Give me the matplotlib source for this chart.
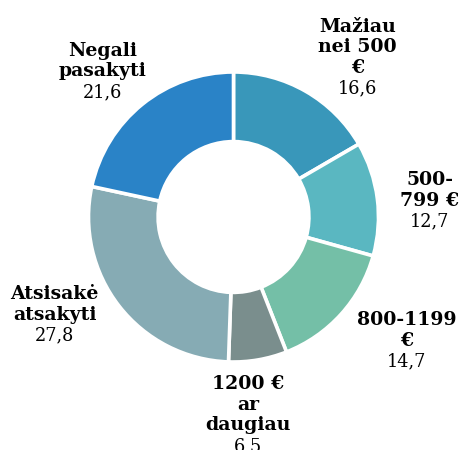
import numpy as np
import matplotlib
matplotlib.use("Agg")
import matplotlib.pyplot as plt

categories = ["Mažiau\nnei 500\n€", "500-\n799 €", "800-1199\n€", "1200 €\nar\ndaugiau",
              "Atsisakė\natsakyti", "Negali\npasakyti"]
values = [16.6, 12.7, 14.7, 6.5, 27.8, 21.6]
value_labels = ["16,6", "12,7", "14,7", "6,5", "27,8", "21,6"]
colors = ["#3997ba", "#5ab7c1", "#74bfa7", "#7a8e8d", "#86abb4", "#2a83c7"]

W, H = 463, 450
fig = plt.figure(figsize=(W / 100, H / 100), dpi=100)
ax = fig.add_axes([0, 0, 1, 1])
ax.set_xlim(0, W)
ax.set_ylim(0, H)
ax.set_aspect("equal")
ax.axis("off")

cx, cy, r = 233.5, 233, 145
wedges, _ = ax.pie(values, colors=colors, startangle=90, counterclock=False,
                   center=(cx, cy), radius=r, normalize=True,
                   wedgeprops=dict(width=r * 0.48, edgecolor="white", linewidth=2.6))
ax.set_xlim(0, W)
ax.set_ylim(0, H)

# label layout: angle-based anchor plus small nudges (pixels)
nudges = [(24, -13), (-2, -8), (25, 11), (-19, 0), (-21, 26), (-5, -9)]
R = 200
lh = 20.7
fam = "DejaVu Serif"
for w, cat, vl, (nx, ny) in zip(wedges, categories, value_labels, nudges):
    th = np.deg2rad((w.theta1 + w.theta2) / 2)
    x = cx + R * np.cos(th) + nx
    yc = cy + R * np.sin(th) + ny
    lines = cat.split("\n") + [vl]
    n = len(lines)
    for i, ln in enumerate(lines):
        yb = yc + ((n - 1) / 2 - i) * lh - 6
        bold = i < n - 1
        ax.text(x, yb, ln, ha="center", va="baseline", family=fam,
                size=13.6 if bold else 12.8,
                fontweight="bold" if bold else "normal", color="black")

fig.savefig("out.png", dpi=100)
